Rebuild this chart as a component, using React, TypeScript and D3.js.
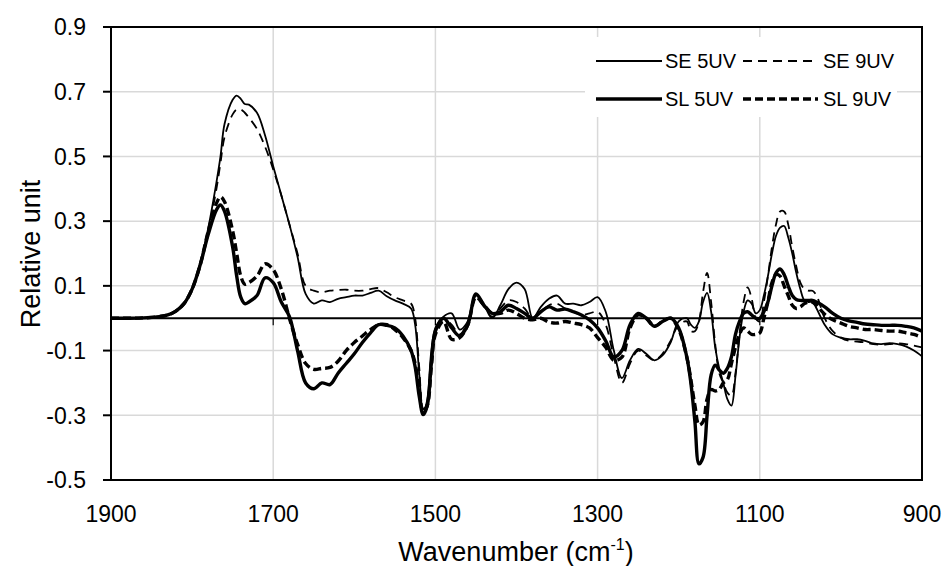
import React from "react";
import * as d3 from "d3";

const wavenumbers = [
  1900, 1880, 1860, 1840, 1830, 1820, 1810, 1800, 1790, 1780,
  1770, 1765, 1760, 1750, 1745, 1740, 1735, 1730, 1720, 1710,
  1700, 1690, 1680, 1670, 1660, 1650, 1640, 1630, 1620, 1610,
  1600, 1590, 1580, 1570, 1560, 1550, 1540, 1530, 1525, 1520,
  1515, 1510, 1505, 1500, 1490, 1480, 1470, 1460, 1450, 1440,
  1430, 1420, 1410, 1400, 1390, 1380, 1370, 1360, 1350, 1340,
  1330, 1320, 1310, 1300, 1290, 1280, 1270, 1260, 1250, 1240,
  1230, 1220, 1210, 1200, 1190, 1185, 1180, 1175, 1170, 1165,
  1160, 1155, 1150, 1145, 1140, 1135, 1130, 1125, 1120, 1115,
  1110, 1105, 1100, 1095, 1090, 1085, 1080, 1075, 1070, 1065,
  1060, 1055, 1050, 1045, 1040, 1035, 1030, 1020, 1010, 1000,
  990, 980, 970, 960, 950, 940, 930, 920, 910, 900,
];

const se5UV = [
  0, 0, 0.001, 0.005, 0.01, 0.022, 0.045, 0.09, 0.17, 0.28,
  0.42, 0.5, 0.6, 0.675, 0.688, 0.678, 0.662, 0.66, 0.635, 0.565,
  0.47, 0.38, 0.29, 0.19, 0.075, 0.045, 0.055, 0.05, 0.06, 0.065,
  0.07, 0.07, 0.078, 0.085, 0.068, 0.055, 0.045, 0.03, -0.02, -0.17,
  -0.295, -0.25, -0.1, -0.03, 0.005, 0.015, -0.035, -0.01, 0.07, 0.04,
  0.0, 0.04, 0.09, 0.11, 0.09, 0.0, 0.035, 0.06, 0.07, 0.045,
  0.045, 0.04, 0.05, 0.065, 0.02, -0.1, -0.185, -0.13, -0.095, -0.11,
  -0.13, -0.115, -0.075, -0.01, 0.0, -0.02, -0.03, -0.01, 0.05, 0.078,
  0.02, -0.09, -0.155, -0.2, -0.25, -0.27, -0.18, -0.06, 0.02, 0.055,
  0.045, 0.015, 0.025, 0.07, 0.13, 0.2, 0.255, 0.28, 0.285, 0.25,
  0.2, 0.14, 0.09, 0.055, 0.05, 0.05, 0.03, -0.02, -0.05, -0.06,
  -0.065, -0.065, -0.07, -0.078, -0.08, -0.077, -0.08, -0.087, -0.1, -0.118,
];

const se9UV = [
  0, 0, 0.001, 0.005, 0.01, 0.022, 0.045, 0.09, 0.165, 0.27,
  0.4, 0.48, 0.56, 0.63, 0.645, 0.645, 0.635, 0.62, 0.585, 0.53,
  0.46, 0.38, 0.29, 0.2, 0.1, 0.085, 0.08, 0.085, 0.087, 0.088,
  0.085, 0.085, 0.09, 0.093, 0.08, 0.065, 0.055, 0.045, 0.0, -0.15,
  -0.28, -0.26, -0.12, -0.04, 0.0, -0.02, -0.05, -0.01, 0.06, 0.035,
  0.005, 0.03, 0.055, 0.05, 0.03, 0.0, 0.02, 0.04, 0.045, 0.03,
  0.02, 0.01, 0.015, 0.02, -0.02, -0.12, -0.2, -0.14, -0.1, -0.115,
  -0.13, -0.11, -0.07, -0.02, -0.01, -0.04, -0.04, -0.01, 0.08, 0.14,
  0.05, -0.08, -0.17, -0.2, -0.23, -0.24, -0.17, -0.05, 0.05, 0.095,
  0.06, 0.0, -0.01, 0.05, 0.13, 0.22, 0.29, 0.33, 0.33, 0.29,
  0.22, 0.16, 0.11, 0.09, 0.085, 0.085, 0.07, 0.0, -0.04, -0.06,
  -0.07, -0.072, -0.075, -0.08, -0.082, -0.08, -0.078, -0.08, -0.085, -0.09,
];

const sl5UV = [
  0, 0, 0.001, 0.005, 0.01, 0.022, 0.045, 0.09, 0.165, 0.26,
  0.335, 0.35, 0.33, 0.22, 0.13, 0.065, 0.045, 0.05, 0.07, 0.125,
  0.11, 0.05, 0.005, -0.1, -0.2, -0.218, -0.2, -0.205, -0.17, -0.14,
  -0.11, -0.075, -0.045, -0.02, -0.022, -0.03, -0.055, -0.1, -0.15, -0.24,
  -0.298, -0.27, -0.14, -0.04, 0.0, -0.03, -0.055, -0.02, 0.075, 0.04,
  0.015, 0.02, 0.04, 0.03, 0.015, 0.0, 0.02, 0.035, 0.025, 0.028,
  0.02, 0.01, -0.005, -0.03, -0.07, -0.12, -0.1, -0.02, 0.015, 0.0,
  -0.025, -0.01, 0.0, -0.03, -0.12, -0.2, -0.32, -0.45, -0.43, -0.3,
  -0.175, -0.145, -0.16, -0.17, -0.155, -0.12, -0.05, -0.01, 0.015, 0.02,
  0.01, 0.0, 0.0, 0.02, 0.05, 0.1, 0.14, 0.152, 0.135, 0.1,
  0.07, 0.058, 0.055, 0.055, 0.055, 0.055, 0.05, 0.035, 0.015, 0.0,
  -0.008, -0.013, -0.018, -0.02, -0.022, -0.022, -0.022, -0.025, -0.03, -0.04,
];

const sl9UV = [
  0, 0, 0.001, 0.005, 0.01, 0.022, 0.045, 0.09, 0.165, 0.27,
  0.355, 0.375, 0.36, 0.27, 0.2, 0.13, 0.105, 0.11, 0.13, 0.168,
  0.15, 0.09, 0.0, -0.08, -0.14, -0.158, -0.155, -0.152, -0.133, -0.1,
  -0.075, -0.055, -0.035, -0.02, -0.02, -0.035, -0.06, -0.1, -0.14, -0.22,
  -0.29, -0.27, -0.15, -0.05, -0.01, -0.065, -0.06, -0.02, 0.065, 0.04,
  0.015, 0.015, 0.025, 0.015, 0.0, -0.005, 0.0, -0.012, -0.015, -0.01,
  -0.015, -0.02, -0.03, -0.06, -0.09, -0.13, -0.12, -0.03, 0.01, 0.0,
  -0.025, -0.01, 0.0, -0.035, -0.12, -0.19, -0.27, -0.33, -0.32, -0.25,
  -0.22, -0.225, -0.22, -0.2, -0.19, -0.14, -0.09, -0.05, -0.03, -0.04,
  -0.05, -0.05, -0.045, 0.0, 0.05, 0.11, 0.135, 0.13, 0.1, 0.07,
  0.04, 0.03, 0.035, 0.045, 0.05, 0.05, 0.04, 0.012, -0.005, -0.015,
  -0.025, -0.03, -0.035, -0.035, -0.038, -0.04, -0.04, -0.045, -0.05, -0.06,
];

const xTicks = [1900, 1700, 1500, 1300, 1100, 900];
const yTicks = [-0.5, -0.3, -0.1, 0.1, 0.3, 0.5, 0.7, 0.9];

const seriesNames = ["SE 5UV", "SE 9UV", "SL 5UV", "SL 9UV"];
const seriesValues = [se5UV, se9UV, sl5UV, sl9UV];

const W = 943;
const H = 566;
const left = 111;
const right = 922;
const top = 27;
const bottom = 480;
const FONT = "'Liberation Sans', Arial, sans-serif";

const styles = [
  { width: 1.8, dash: "" },
  { width: 1.8, dash: "9,6" },
  { width: 3.4, dash: "" },
  { width: 3.4, dash: "8,4" },
];

export default function App() {
  const x = d3.scaleLinear().domain([1900, 900]).range([left, right]);
  const y = d3.scaleLinear().domain([-0.5, 0.9]).range([bottom, top]);

  const line = d3
    .line<[number, number]>()
    .x((d) => x(d[0]))
    .y((d) => y(d[1]))
    .curve(d3.curveCatmullRom.alpha(0.5));

  const paths = seriesValues.map((vals) =>
    line(wavenumbers.map((w, i) => [w, vals[i]] as [number, number])) || ""
  );

  const legendRows = [
    { y: 61, items: [0, 1] },
    { y: 99, items: [2, 3] },
  ];
  const legendCols = [
    { lx1: 596, lx2: 662, tx: 665 },
    { lx1: 743, lx2: 818, tx: 823 },
  ];

  return (
    <div style={{ position: "fixed", left: 0, top: 0, width: W, height: H, background: "#fff" }}>
      <svg width={W} height={H} style={{ display: "block" }}>
        <rect x={0} y={0} width={W} height={H} fill="#fff" />
        {yTicks
          .filter((t) => t > -0.5 && t < 0.9)
          .map((t) => (
            <line key={"gy" + t} x1={left} x2={right} y1={y(t)} y2={y(t)} stroke="#d9d9d9" strokeWidth={1.5} />
          ))}
        {xTicks
          .filter((t) => t < 1900 && t > 900)
          .map((t) => (
            <line key={"gx" + t} x1={x(t)} x2={x(t)} y1={top} y2={bottom} stroke="#d9d9d9" strokeWidth={1.5} />
          ))}
        <rect x={585} y={37} width={312} height={80} fill="#fff" />
        <line x1={left} x2={right} y1={y(0)} y2={y(0)} stroke="#000" strokeWidth={2} />
        {xTicks.map((t) => (
          <line key={"zt" + t} x1={x(t)} x2={x(t)} y1={y(0)} y2={y(0) + 7} stroke="#000" strokeWidth={1.2} />
        ))}
        {paths.map((p, i) => (
          <path
            key={seriesNames[i]}
            d={p}
            fill="none"
            stroke="#000"
            strokeWidth={styles[i].width}
            strokeDasharray={styles[i].dash || undefined}
            strokeLinejoin="round"
          />
        ))}
        <rect x={left} y={top} width={right - left} height={bottom - top} fill="none" stroke="#000" strokeWidth={2} />
        {yTicks.map((t) => (
          <g key={"yt" + t}>
            <line x1={left - 8} x2={left} y1={y(t)} y2={y(t)} stroke="#000" strokeWidth={2} />
            <text x={86} y={y(t)} dy="0.36em" textAnchor="end" fontFamily={FONT} fontSize={23} fill="#000">
              {t.toFixed(1)}
            </text>
          </g>
        ))}
        {xTicks.map((t) => (
          <text key={"xt" + t} x={x(t)} y={522} textAnchor="middle" fontFamily={FONT} fontSize={23} fill="#000">
            {t}
          </text>
        ))}
        <text x={516} y={561} textAnchor="middle" fontFamily={FONT} fontSize={27} fill="#000">
          Wavenumber (cm
          <tspan fontSize={16} dy={-11}>-1</tspan>
          <tspan dy={11}>)</tspan>
        </text>
        <text
          transform={`translate(40,254) rotate(-90)`}
          textAnchor="middle"
          fontFamily={FONT}
          fontSize={27}
          fill="#000"
        >
          Relative unit
        </text>
        {legendRows.map((row) =>
          row.items.map((si, ci) => (
            <g key={"lg" + si}>
              <line
                x1={legendCols[ci].lx1}
                x2={legendCols[ci].lx2}
                y1={row.y}
                y2={row.y}
                stroke="#000"
                strokeWidth={styles[si].width}
                strokeDasharray={styles[si].dash || undefined}
              />
              <text x={legendCols[ci].tx} y={row.y} dy="0.36em" fontFamily={FONT} fontSize={20} fill="#000">
                {seriesNames[si]}
              </text>
            </g>
          ))
        )}
      </svg>
    </div>
  );
}
